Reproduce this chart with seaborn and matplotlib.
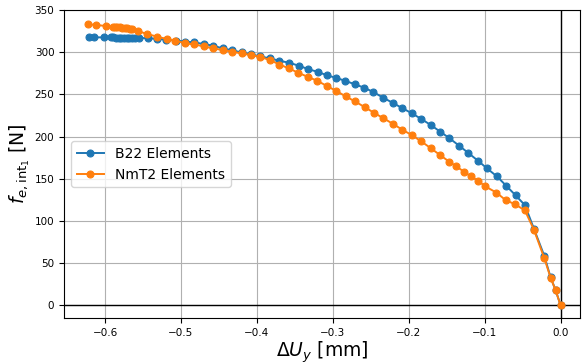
import matplotlib
matplotlib.use("Agg")
import matplotlib.pyplot as plt
import seaborn as sns
import numpy as np
import pandas as pd

# Vertical displacement [mm] and internal force [N] for the B22 beam model
b22_dU = [-0.6212, -0.6146, -0.6015, -0.5926, -0.5890, -0.5855, -0.5820, -0.5785,
          -0.5750, -0.5715, -0.5680, -0.5645, -0.5610, -0.5558, -0.5440, -0.5320,
          -0.5195, -0.5070, -0.4948, -0.4823, -0.4700, -0.4577, -0.4451, -0.4323,
          -0.4201, -0.4074, -0.3952, -0.3824, -0.3702, -0.3574, -0.3443, -0.3320,
          -0.3197, -0.3079, -0.2957, -0.2834, -0.2707, -0.2589, -0.2467, -0.2335,
          -0.2212, -0.2085, -0.1962, -0.1836, -0.1712, -0.1586, -0.1463, -0.1336,
          -0.1218, -0.1087, -0.0968, -0.0837, -0.0714, -0.0591, -0.0469, -0.0350,
          -0.0214, -0.0131, -0.0066, 0.0]
b22_f = [317.8, 317.8, 317.7, 317.6, 317.6, 317.5, 317.5, 317.4, 317.4, 317.3,
         317.3, 317.2, 317.1, 317.0, 316.8, 316.0, 315.0, 314.0, 312.8, 311.8,
         309.8, 307.9, 304.7, 302.3, 299.9, 297.5, 295.1, 292.7, 290.0, 287.6,
         284.0, 279.9, 276.8, 272.8, 269.7, 266.1, 262.0, 258.1, 252.9, 246.1,
         240.1, 233.8, 227.8, 221.0, 213.9, 205.9, 198.0, 189.2, 180.8, 171.3,
         162.2, 152.7, 141.5, 130.2, 118.6, 90.5, 58.5, 33.0, 18.0, 0.0]

# Same quantities for the NmT2 element model
nmt2_dU = [-0.6225, -0.6124, -0.5993, -0.5900, -0.5868, -0.5836, -0.5804, -0.5772,
           -0.5740, -0.5708, -0.5676, -0.5645, -0.5568, -0.5444, -0.5313, -0.5190,
           -0.5072, -0.4941, -0.4823, -0.4700, -0.4577, -0.4451, -0.4323, -0.4201,
           -0.4074, -0.3955, -0.3824, -0.3702, -0.3574, -0.3452, -0.3329, -0.3202,
           -0.3079, -0.2953, -0.2829, -0.2707, -0.2580, -0.2457, -0.2335, -0.2208,
           -0.2085, -0.1962, -0.1836, -0.1712, -0.1586, -0.1463, -0.1371, -0.1275,
           -0.1183, -0.1087, -0.0999, -0.0845, -0.0723, -0.0595, -0.0469, -0.0351,
           -0.0214, -0.0131, -0.0066, 0.0]
nmt2_f = [333.3, 332.5, 331.3, 330.6, 330.4, 330.1, 329.8, 329.4, 329.0, 328.6,
          328.1, 327.5, 325.3, 321.7, 318.6, 315.8, 313.9, 310.6, 309.4, 307.0,
          304.7, 302.7, 300.7, 298.7, 296.7, 294.5, 290.7, 285.5, 280.8, 275.6,
          270.9, 266.1, 260.1, 254.1, 247.7, 241.7, 235.0, 228.2, 221.9, 215.1,
          208.2, 201.9, 194.4, 186.4, 178.0, 170.0, 164.5, 158.5, 152.9, 147.8,
          141.3, 133.5, 124.6, 119.5, 112.3, 89.6, 55.8, 32.6, 17.9, 0.0]

series_labels = ["B22 Elements", "NmT2 Elements"]
x_ticks = [-0.6, -0.5, -0.4, -0.3, -0.2, -0.1, 0.0]
y_ticks = [0, 50, 100, 150, 200, 250, 300, 350]

df_b22 = pd.DataFrame({"dU": b22_dU, "f": b22_f})
df_nmt2 = pd.DataFrame({"dU": nmt2_dU, "f": nmt2_f})

fig = plt.figure(figsize=(5.82, 3.64), dpi=100)
ax = fig.add_axes([0.110, 0.126, 0.887, 0.846])

blue, orange = "#1f77b4", "#ff7f0e"
for df, lab, col in [(df_b22, series_labels[0], blue), (df_nmt2, series_labels[1], orange)]:
    sns.lineplot(data=df, x="dU", y="f", ax=ax, sort=False, estimator=None,
                 color=col, marker="o", markersize=5.0, markeredgecolor=col,
                 markeredgewidth=0.8, linewidth=1.4, label=lab)

ax.axhline(0, color="black", linewidth=1.0, zorder=1)
ax.axvline(0, color="black", linewidth=1.0, zorder=1)

ax.set_xlim(-0.654, 0.026)
ax.set_ylim(-15.5, 350)
ax.set_xticks(x_ticks)
ax.set_yticks(y_ticks)
ax.tick_params(labelsize=7.5)
ax.grid(True, color="#b0b0b0", linewidth=0.8)
ax.set_axisbelow(True)

ax.set_xlabel(r"$\Delta U_y$ [mm]", fontsize=13.5, labelpad=1)
ax.set_ylabel(r"$f_{e,\mathrm{int}_1}$ [N]", fontsize=13.5, labelpad=2)

ax.legend(loc="center left", fontsize=10, handlelength=2.0)

fig.savefig("out.png", dpi=100)
